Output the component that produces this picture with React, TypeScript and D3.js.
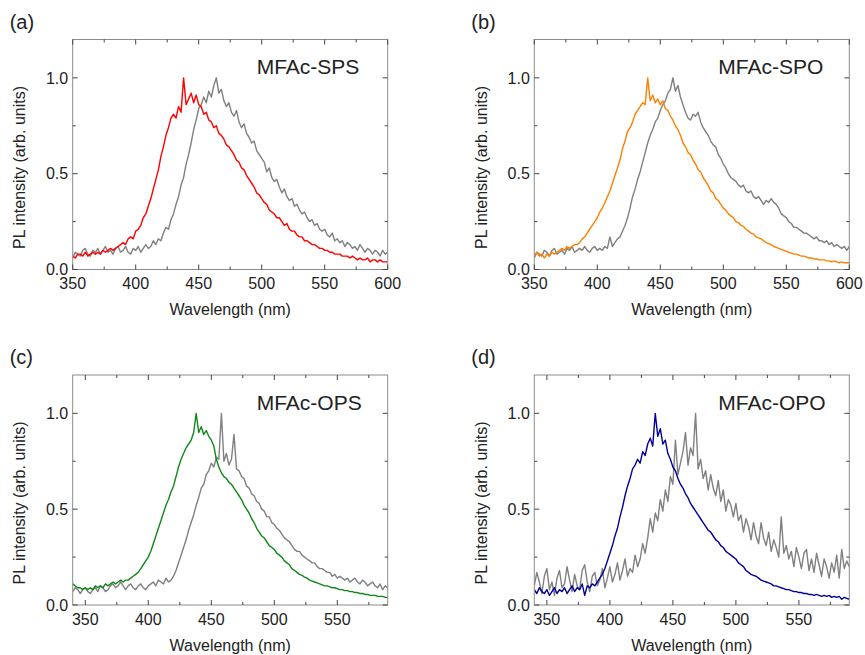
import React from 'react';
import * as d3 from 'd3';

// Sampling grid (nm)
const STEP = 2;
const START_AB = 350;
const START_CD = 340;

// Panel titles / tags
const panelTags = ['(a)', '(b)', '(c)', '(d)'];
const panelTitles = ['MFAc-SPS', 'MFAc-SPO', 'MFAc-OPS', 'MFAc-OPO'];
const seriesColors = ['#ff0000', '#ff8000', '#11861a', '#00009a'];
const refColor = '#808080';

const yTicksMajor = [0, 0.5, 1.0];
const yTicksMinor = [0.25, 0.75];
const xTicksMajorAB = [350, 400, 450, 500, 550, 600];
const xTicksMinorAB = [375, 425, 475, 525, 575];
const xTicksMajorCD = [350, 400, 450, 500, 550];
const xTicksMinorCD = [375, 425, 475, 525, 575];

// (a) MFAc-SPS, 350..600 nm
const colSPS = [
  0.07,0.06,0.08,0.08,0.07,0.09,0.07,0.08,0.09,0.08,
  0.09,0.08,0.10,0.09,0.10,0.11,0.10,0.11,0.12,0.13,
  0.14,0.13,0.16,0.17,0.16,0.20,0.21,0.23,0.27,0.29,
  0.33,0.37,0.42,0.47,0.52,0.59,0.64,0.70,0.74,0.79,
  0.81,0.79,0.85,0.82,1.00,0.86,0.89,0.92,0.87,0.91,
  0.86,0.85,0.81,0.82,0.78,0.77,0.74,0.75,0.71,0.70,
  0.68,0.65,0.64,0.62,0.60,0.57,0.56,0.53,0.52,0.49,
  0.47,0.45,0.43,0.40,0.39,0.37,0.35,0.34,0.31,0.30,
  0.29,0.27,0.27,0.25,0.23,0.24,0.21,0.20,0.20,0.18,
  0.17,0.17,0.15,0.15,0.14,0.13,0.13,0.12,0.11,0.11,
  0.10,0.10,0.09,0.09,0.08,0.08,0.08,0.07,0.07,0.07,
  0.06,0.07,0.06,0.05,0.06,0.05,0.05,0.06,0.04,0.05,
  0.05,0.04,0.05,0.04,0.04,0.04,
];
const refSPS = [
  0.06,0.09,0.08,0.07,0.10,0.11,0.08,0.07,0.10,0.09,
  0.11,0.08,0.10,0.12,0.09,0.10,0.08,0.11,0.12,0.09,
  0.10,0.12,0.09,0.08,0.11,0.10,0.12,0.09,0.11,0.13,
  0.11,0.12,0.15,0.13,0.16,0.15,0.19,0.22,0.21,0.26,
  0.29,0.34,0.38,0.44,0.48,0.55,0.60,0.66,0.73,0.78,
  0.84,0.86,0.90,0.87,0.93,0.90,0.96,1.00,0.92,0.94,
  0.88,0.85,0.87,0.82,0.80,0.83,0.77,0.74,0.76,0.71,
  0.69,0.66,0.67,0.62,0.60,0.58,0.56,0.51,0.53,0.48,
  0.46,0.47,0.43,0.40,0.42,0.38,0.36,0.37,0.33,0.34,
  0.31,0.29,0.30,0.27,0.25,0.26,0.23,0.24,0.21,0.20,
  0.21,0.18,0.17,0.19,0.15,0.16,0.14,0.15,0.12,0.14,
  0.13,0.11,0.12,0.10,0.13,0.11,0.09,0.11,0.10,0.08,
  0.10,0.09,0.07,0.10,0.08,0.09,
];

// (b) MFAc-SPO, 350..600 nm
const colSPO = [
  0.07,0.09,0.07,0.08,0.06,0.08,0.07,0.09,0.08,0.09,
  0.10,0.11,0.10,0.12,0.11,0.12,0.13,0.13,0.14,0.16,
  0.17,0.19,0.21,0.23,0.25,0.27,0.30,0.32,0.35,0.38,
  0.41,0.45,0.49,0.53,0.57,0.63,0.67,0.72,0.74,0.77,
  0.81,0.83,0.85,0.87,0.86,1.00,0.88,0.91,0.87,0.89,
  0.86,0.88,0.84,0.83,0.80,0.78,0.75,0.73,0.70,0.66,
  0.64,0.61,0.60,0.57,0.55,0.52,0.51,0.48,0.46,0.44,
  0.41,0.40,0.37,0.36,0.34,0.32,0.31,0.29,0.28,0.27,
  0.25,0.245,0.23,0.225,0.21,0.20,0.19,0.185,0.17,0.165,
  0.16,0.15,0.14,0.135,0.13,0.12,0.115,0.11,0.105,0.10,
  0.095,0.09,0.085,0.08,0.08,0.075,0.07,0.07,0.065,0.06,
  0.06,0.055,0.055,0.05,0.05,0.05,0.045,0.045,0.04,0.045,
  0.04,0.035,0.04,0.035,0.035,0.035,
];
const refSPO = [
  0.06,0.09,0.08,0.07,0.10,0.09,0.07,0.10,0.11,0.08,
  0.09,0.10,0.08,0.11,0.10,0.12,0.09,0.10,0.11,0.10,
  0.12,0.10,0.09,0.11,0.12,0.10,0.11,0.10,0.12,0.11,
  0.17,0.12,0.14,0.16,0.17,0.20,0.23,0.27,0.32,0.38,
  0.42,0.47,0.51,0.56,0.61,0.66,0.70,0.73,0.77,0.79,
  0.83,0.86,0.88,0.92,0.94,1.00,0.93,0.96,0.90,0.86,
  0.82,0.79,0.78,0.81,0.80,0.82,0.77,0.74,0.72,0.70,
  0.67,0.65,0.64,0.60,0.58,0.55,0.53,0.50,0.48,0.47,
  0.46,0.44,0.43,0.44,0.41,0.40,0.41,0.38,0.37,0.38,
  0.36,0.34,0.36,0.35,0.37,0.35,0.34,0.32,0.29,0.28,
  0.27,0.25,0.24,0.22,0.22,0.21,0.20,0.19,0.19,0.18,
  0.17,0.16,0.17,0.15,0.15,0.14,0.15,0.13,0.14,0.12,
  0.13,0.12,0.11,0.12,0.10,0.12,
];

// (c) MFAc-OPS, 340..590 nm
const colOPS = [
  0.11,0.10,0.09,0.09,0.08,0.09,0.08,0.09,0.08,0.10,
  0.09,0.10,0.09,0.11,0.10,0.11,0.12,0.11,0.12,0.13,
  0.12,0.13,0.13,0.14,0.15,0.16,0.17,0.19,0.21,0.23,
  0.25,0.28,0.32,0.36,0.40,0.44,0.48,0.52,0.55,0.59,
  0.62,0.67,0.72,0.76,0.79,0.82,0.84,0.86,0.90,1.00,
  0.90,0.93,0.89,0.91,0.88,0.86,0.83,0.76,0.72,0.69,
  0.67,0.66,0.64,0.63,0.61,0.59,0.57,0.55,0.52,0.50,
  0.48,0.45,0.43,0.40,0.38,0.36,0.35,0.33,0.31,0.30,
  0.29,0.27,0.26,0.25,0.23,0.22,0.21,0.19,0.18,0.17,
  0.16,0.155,0.145,0.14,0.13,0.125,0.12,0.115,0.11,0.105,
  0.10,0.10,0.095,0.09,0.09,0.085,0.08,0.08,0.075,0.075,
  0.07,0.07,0.065,0.065,0.06,0.06,0.055,0.055,0.05,0.05,
  0.05,0.045,0.045,0.045,0.04,0.04,
];
const refOPS = [
  0.07,0.09,0.08,0.06,0.08,0.09,0.07,0.06,0.08,0.09,
  0.07,0.10,0.09,0.07,0.08,0.10,0.11,0.09,0.10,0.12,
  0.10,0.08,0.10,0.11,0.09,0.08,0.10,0.11,0.09,0.08,
  0.10,0.11,0.12,0.10,0.13,0.12,0.11,0.14,0.12,0.13,
  0.15,0.18,0.22,0.26,0.30,0.34,0.39,0.43,0.47,0.52,
  0.56,0.61,0.63,0.68,0.70,0.74,0.72,0.77,0.76,1.00,
  0.75,0.79,0.73,0.76,0.89,0.71,0.70,0.67,0.66,0.62,
  0.61,0.58,0.57,0.54,0.53,0.50,0.49,0.46,0.46,0.43,
  0.42,0.40,0.39,0.37,0.35,0.34,0.33,0.31,0.29,0.28,
  0.28,0.26,0.25,0.24,0.23,0.22,0.22,0.20,0.19,0.19,
  0.18,0.17,0.17,0.15,0.16,0.14,0.15,0.14,0.13,0.14,
  0.12,0.13,0.14,0.12,0.11,0.13,0.12,0.10,0.11,0.12,
  0.10,0.09,0.11,0.08,0.10,0.09,
];

// (d) MFAc-OPO, 340..590 nm
const colOPO = [
  0.08,0.06,0.09,0.07,0.06,0.08,0.05,0.07,0.09,0.06,
  0.08,0.07,0.09,0.06,0.08,0.10,0.07,0.09,0.08,0.11,
  0.05,0.10,0.09,0.11,0.10,0.12,0.14,0.16,0.19,0.23,
  0.27,0.31,0.36,0.40,0.46,0.51,0.57,0.62,0.66,0.71,
  0.73,0.76,0.74,0.80,0.78,0.84,0.87,0.83,1.00,0.88,
  0.92,0.84,0.86,0.79,0.76,0.72,0.70,0.66,0.63,0.61,
  0.58,0.56,0.53,0.51,0.49,0.47,0.45,0.43,0.41,0.39,
  0.38,0.36,0.34,0.33,0.31,0.30,0.28,0.27,0.26,0.25,
  0.24,0.22,0.21,0.20,0.18,0.17,0.16,0.155,0.15,0.14,
  0.13,0.125,0.12,0.115,0.11,0.10,0.10,0.095,0.09,0.085,
  0.08,0.08,0.075,0.07,0.07,0.065,0.065,0.06,0.06,0.055,
  0.055,0.05,0.055,0.05,0.045,0.05,0.045,0.05,0.04,0.045,
  0.04,0.045,0.03,0.04,0.035,0.03,
];
const refOPO = [
  0.10,0.17,0.12,0.06,0.15,0.19,0.08,0.12,0.05,0.14,
  0.18,0.09,0.11,0.20,0.13,0.07,0.16,0.10,0.08,0.18,
  0.21,0.12,0.07,0.15,0.17,0.10,0.13,0.19,0.09,0.14,
  0.20,0.12,0.16,0.22,0.13,0.18,0.24,0.15,0.19,0.17,
  0.26,0.20,0.24,0.32,0.27,0.35,0.45,0.38,0.48,0.44,
  0.55,0.49,0.60,0.54,0.67,0.63,0.86,0.68,0.74,0.80,
  0.90,0.73,0.82,0.78,1.00,0.71,0.76,0.66,0.70,0.60,
  0.68,0.61,0.57,0.65,0.54,0.60,0.49,0.55,0.52,0.46,
  0.53,0.44,0.47,0.38,0.45,0.41,0.34,0.43,0.36,0.32,
  0.43,0.35,0.31,0.38,0.28,0.34,0.30,0.25,0.46,0.27,
  0.31,0.24,0.28,0.20,0.30,0.25,0.19,0.27,0.29,0.18,
  0.24,0.17,0.27,0.21,0.15,0.24,0.20,0.14,0.22,0.17,
  0.26,0.14,0.29,0.19,0.23,0.20,
];

const FONT = "'Liberation Sans', Arial, Helvetica, sans-serif";
const TEXT = '#222';

type PanelProps = {
  idx: number;
  left: number;
  top: number;
  width: number;
  height: number;
  xDomain: [number, number];
  xMajor: number[];
  xMinor: number[];
  start: number;
  colored: number[];
  reference: number[];
};

function Panel({ idx, left, top, width, height, xDomain, xMajor, xMinor, start, colored, reference }: PanelProps) {
  const x = d3.scaleLinear().domain(xDomain).range([left, left + width]);
  const y = d3.scaleLinear().domain([0, 1.2]).range([top + height, top]);
  const lg = d3.line<number>().x((_, i) => x(start + i * STEP)).y((d) => y(d));
  const bottom = top + height;
  const right = left + width;
  const clipId = `clip-${idx}`;
  const majLen = 5;
  const minLen = 3;
  const tickColor = '#444';
  const fmt = d3.format('.1f');
  return (
    <g>
      <defs>
        <clipPath id={clipId}>
          <rect x={left} y={top} width={width} height={height} />
        </clipPath>
      </defs>
      <g clipPath={`url(#${clipId})`} fill="none" strokeWidth={1.4} strokeLinejoin="round">
        <path d={lg(reference) || ''} stroke={refColor} />
        <path d={lg(colored) || ''} stroke={seriesColors[idx]} />
      </g>
      <rect x={left} y={top} width={width} height={height} fill="none" stroke="#8c8c8c" strokeWidth={1} />
      {xMajor.map((v) => (
        <g key={`xM${v}`} stroke={tickColor} strokeWidth={1}>
          <line x1={x(v)} x2={x(v)} y1={bottom} y2={bottom - majLen} />
          <line x1={x(v)} x2={x(v)} y1={top} y2={top + majLen} />
        </g>
      ))}
      {xMinor.filter((v) => v > xDomain[0] && v < xDomain[1]).map((v) => (
        <g key={`xm${v}`} stroke={tickColor} strokeWidth={1}>
          <line x1={x(v)} x2={x(v)} y1={bottom} y2={bottom - minLen} />
          <line x1={x(v)} x2={x(v)} y1={top} y2={top + minLen} />
        </g>
      ))}
      {yTicksMajor.map((v) => (
        <g key={`yM${v}`} stroke={tickColor} strokeWidth={1}>
          <line x1={left} x2={left + majLen} y1={y(v)} y2={y(v)} />
          <line x1={right} x2={right - majLen} y1={y(v)} y2={y(v)} />
        </g>
      ))}
      {yTicksMinor.map((v) => (
        <g key={`ym${v}`} stroke={tickColor} strokeWidth={1}>
          <line x1={left} x2={left + minLen} y1={y(v)} y2={y(v)} />
          <line x1={right} x2={right - minLen} y1={y(v)} y2={y(v)} />
        </g>
      ))}
      <g fontFamily={FONT} fill={TEXT}>
        {xMajor.map((v) => (
          <text key={`xl${v}`} x={x(v)} y={bottom + 19.5} fontSize={16} textAnchor="middle">
            {v}
          </text>
        ))}
        {yTicksMajor.map((v) => (
          <text key={`yl${v}`} x={left - 4.5} y={y(v)} dy="0.36em" fontSize={16} textAnchor="end">
            {fmt(v)}
          </text>
        ))}
        <text x={left + width / 2} y={bottom + 45.5} fontSize={16} textAnchor="middle">
          Wavelength (nm)
        </text>
        <text
          transform={`translate(${left - 47.5},${top + 128}) rotate(-90)`}
          fontSize={16}
          textAnchor="middle"
        >
          PL intensity (arb. units)
        </text>
        <text x={left + 184} y={top + 34.5} fontSize={21}>
          {panelTitles[idx]}
        </text>
        <text x={left - 63} y={top - 11} fontSize={20}>
          {panelTags[idx]}
        </text>
      </g>
    </g>
  );
}

export default function App() {
  const W = 315;
  const H = 230;
  return (
    <svg
      width={865}
      height={655}
      style={{ position: 'absolute', left: 0, top: 0, background: '#fff' }}
    >
      <rect x={0} y={0} width={865} height={655} fill="#fff" />
      <Panel idx={0} left={72.7} top={39.5} width={W} height={H} xDomain={[350, 600]}
        xMajor={xTicksMajorAB} xMinor={xTicksMinorAB} start={START_AB} colored={colSPS} reference={refSPS} />
      <Panel idx={1} left={534.3} top={39.5} width={W} height={H} xDomain={[350, 600]}
        xMajor={xTicksMajorAB} xMinor={xTicksMinorAB} start={START_AB} colored={colSPO} reference={refSPO} />
      <Panel idx={2} left={72.7} top={375} width={W} height={H} xDomain={[340, 590]}
        xMajor={xTicksMajorCD} xMinor={xTicksMinorCD} start={START_CD} colored={colOPS} reference={refOPS} />
      <Panel idx={3} left={534.3} top={375} width={W} height={H} xDomain={[340, 590]}
        xMajor={xTicksMajorCD} xMinor={xTicksMinorCD} start={START_CD} colored={colOPO} reference={refOPO} />
    </svg>
  );
}
